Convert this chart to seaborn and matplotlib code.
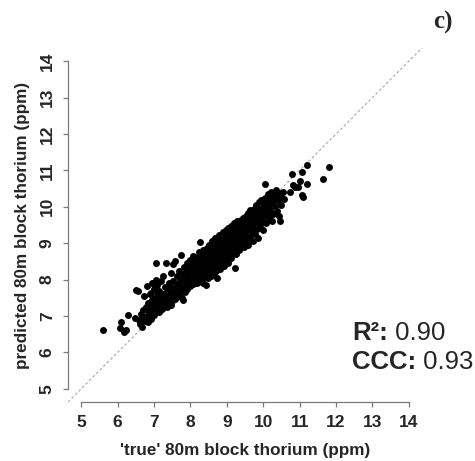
import numpy as np
import pandas as pd
import seaborn as sns
import matplotlib.pyplot as plt

# 'true' vs predicted 80m block thorium (ppm)
true_th = [
    5.61, 6.08, 6.10, 6.19, 6.22, 6.28, 6.47, 6.51, 6.55, 6.58,
    6.62, 6.65, 6.68, 6.70, 6.72, 6.74, 6.75, 6.78, 6.80, 6.82,
    6.83, 6.85, 6.86, 6.88, 6.90, 6.91, 6.93, 6.94, 6.95, 6.96,
    6.97, 6.98, 6.99, 7.00, 7.00,
    7.02, 7.04, 7.05, 7.06, 7.07, 7.08, 7.10, 7.11, 7.12, 7.14,
    7.15, 7.17, 7.18, 7.20, 7.20, 7.22, 7.24, 7.25, 7.27, 7.29,
    7.30, 7.31, 7.33, 7.34, 7.35, 7.37, 7.38, 7.40, 7.41, 7.43,
    7.44, 7.46, 7.47, 7.48, 7.49,
    7.51, 7.52, 7.53, 7.55, 7.57, 7.58, 7.60, 7.62, 7.63, 7.65,
    7.67, 7.68, 7.70, 7.72, 7.73, 7.75, 7.76, 7.78, 7.80, 7.80,
    7.82, 7.83, 7.85, 7.86, 7.88, 7.89, 7.90, 7.91, 7.92, 7.94,
    7.95, 7.96, 7.97, 7.98, 7.99,
    8.00, 8.01, 8.02, 8.03, 8.04, 8.05, 8.06, 8.07, 8.08, 8.09,
    8.10, 8.11, 8.12, 8.13, 8.14, 8.15, 8.16, 8.17, 8.18, 8.19,
    8.20, 8.21, 8.22, 8.23, 8.24, 8.25, 8.26, 8.27, 8.28, 8.29,
    8.30, 8.31, 8.32, 8.33, 8.34, 8.35, 8.35, 8.36, 8.37, 8.38,
    8.39, 8.40, 8.41, 8.42, 8.43, 8.44, 8.44, 8.45, 8.46, 8.47,
    8.48, 8.49, 8.50, 8.50,
    8.51, 8.52, 8.53, 8.54, 8.55, 8.56, 8.57, 8.58, 8.59, 8.60,
    8.61, 8.62, 8.63, 8.64, 8.65, 8.66, 8.67, 8.68, 8.69, 8.70,
    8.70, 8.71, 8.72, 8.73, 8.74, 8.75, 8.76, 8.77, 8.78, 8.79,
    8.80, 8.81, 8.82, 8.83, 8.84, 8.85, 8.86, 8.87, 8.88, 8.89,
    8.90, 8.91, 8.92, 8.93, 8.94, 8.95, 8.96, 8.97, 8.98, 8.99,
    9.00, 9.00,
    9.01, 9.02, 9.03, 9.04, 9.05, 9.06, 9.07, 9.08, 9.09, 9.10,
    9.11, 9.12, 9.13, 9.14, 9.15, 9.16, 9.17, 9.18, 9.19, 9.20,
    9.21, 9.22, 9.22, 9.23, 9.24, 9.25, 9.26, 9.27, 9.28, 9.29,
    9.30, 9.31, 9.32, 9.33, 9.34, 9.35, 9.36, 9.37, 9.38, 9.39,
    9.40, 9.41, 9.42, 9.43, 9.44, 9.45, 9.46, 9.47, 9.48, 9.49,
    9.50,
    9.51, 9.52, 9.53, 9.54, 9.55, 9.56, 9.58, 9.59, 9.60, 9.62,
    9.63, 9.64, 9.66, 9.67, 9.68, 9.70, 9.71, 9.72, 9.73, 9.75,
    9.76, 9.77, 9.79, 9.80, 9.81, 9.82, 9.84, 9.85, 9.86, 9.88,
    9.89, 9.90, 9.92, 9.93, 9.95, 9.96, 9.98, 9.99,
    10.01, 10.02, 10.04, 10.05, 10.06, 10.08, 10.10, 10.12, 10.14, 10.15,
    10.17, 10.18, 10.20, 10.22, 10.24, 10.26, 10.28, 10.30, 10.32, 10.35,
    10.37, 10.40, 10.42, 10.44, 10.46, 10.48, 10.50, 10.55, 10.58,
    10.73, 10.78, 10.82, 10.87, 10.95, 11.01, 11.06, 11.06, 11.10, 11.19,
    11.19, 11.63, 11.82,
    # extra points filling the dense core
    8.25, 8.40, 8.55, 8.65, 8.80, 8.95, 9.05, 9.15, 9.30, 9.45,
    9.55, 9.70, 8.45, 8.60, 8.75, 8.90, 9.10, 9.25, 9.40, 9.60,
]
pred_th = [
    6.63, 6.66, 6.85, 6.57, 6.62, 7.03, 6.94, 7.72, 7.68, 6.90,
    6.78, 7.05, 6.70, 7.17, 6.95, 7.54, 6.86, 7.25, 7.82, 7.00,
    6.84, 7.35, 7.12, 7.26, 7.60, 6.92, 7.63, 7.05, 7.91, 7.45,
    7.40, 7.18, 7.30, 7.75, 7.02,
    7.50, 7.22, 8.00, 8.46, 7.86, 7.35, 7.63, 7.26, 7.55, 7.12,
    7.70, 7.42, 7.30, 7.45, 7.95, 7.20, 7.60, 8.09, 7.35, 7.52,
    7.28, 7.80, 7.40, 8.46, 7.65, 7.25, 7.48, 7.90, 7.35, 7.82,
    7.58, 7.30, 7.70, 8.19, 7.42,
    7.55, 8.42, 7.95, 7.65, 8.51, 7.48, 7.80, 7.60, 8.10, 7.55,
    7.90, 7.70, 8.25, 7.62, 8.00, 8.69, 7.80, 7.50, 7.45, 8.15,
    7.72, 8.35, 7.95, 7.65, 8.20, 7.85, 8.05, 8.45, 7.75, 8.30,
    8.00, 7.90, 8.15, 8.55, 7.82,
    8.10, 8.35, 7.95, 8.22, 8.50, 8.05, 8.65, 8.30, 7.88, 8.15,
    8.42, 8.00, 8.25, 8.58, 7.95, 8.35, 8.12, 8.48, 8.20, 7.90,
    8.62, 8.30, 8.05, 8.40, 8.75, 8.18, 9.02, 8.50, 8.28, 7.98,
    8.38, 8.65, 8.12, 8.45, 8.22, 7.91, 8.55, 8.80, 8.32, 8.08,
    8.48, 8.70, 8.25, 8.60, 8.40, 7.86, 8.15, 8.88, 8.52, 8.30,
    8.72, 8.05, 8.45, 8.62,
    8.35, 8.95, 8.20, 8.55, 8.78, 8.42, 8.10, 8.65, 9.05, 8.30,
    8.50, 8.85, 8.38, 8.70, 8.15, 8.58, 9.15, 8.45, 8.92, 8.25,
    8.62, 8.80, 8.05, 8.50, 9.00, 8.70, 8.35, 8.88, 8.60, 9.22,
    8.48, 8.75, 8.28, 8.95, 8.65, 9.10, 8.42, 8.82, 8.55, 9.30,
    8.70, 8.38, 8.98, 8.62, 9.15, 8.80, 8.50, 9.05, 8.72, 9.35,
    8.90, 8.58,
    9.20, 8.45, 8.85, 9.42, 8.68, 9.05, 8.95, 9.30, 8.78, 9.12,
    8.60, 9.48, 8.90, 9.22, 9.00, 8.75, 9.35, 9.10, 8.85, 9.55,
    9.25, 8.32, 8.95, 9.15, 9.42, 8.70, 9.05, 9.30, 8.98, 9.60,
    9.20, 8.88, 9.40, 9.10, 8.80, 9.52, 9.28, 9.02, 9.65, 9.18,
    8.95, 9.45, 9.32, 9.08, 9.70, 9.22, 8.90, 9.55, 9.38, 9.12,
    9.62,
    9.30, 9.05, 9.75, 9.45, 9.20, 9.60, 8.95, 9.82, 9.38, 9.55,
    9.15, 9.90, 9.48, 9.70, 9.30, 9.85, 9.60, 9.05, 9.42, 9.95,
    9.72, 9.25, 9.58, 10.05, 9.80, 9.40, 9.65, 9.90, 9.15, 10.12,
    9.72, 9.50, 9.95, 9.82, 10.20, 9.62, 9.88, 9.35,
    10.05, 9.75, 10.25, 10.63, 9.90, 9.55, 10.15, 9.85, 10.35, 9.70,
    10.05, 10.22, 9.92, 10.40, 9.60, 10.15, 9.80, 10.30, 10.02, 10.45,
    9.88, 10.20, 10.38, 9.75, 9.62, 10.28, 10.05, 10.40, 10.22,
    10.40, 10.91, 10.60, 10.54, 10.55, 10.72, 10.96, 10.31, 10.28, 11.14,
    10.63, 10.77, 11.09,
    8.55, 8.60, 8.75, 8.45, 8.95, 8.60, 9.25, 8.85, 9.40, 9.15,
    9.70, 9.50, 8.20, 9.00, 8.55, 9.10, 8.70, 9.35, 9.00, 9.80,
]
tick_vals = [5, 6, 7, 8, 9, 10, 11, 12, 13, 14]
r2_text = "0.90"
ccc_text = "0.93"

df = pd.DataFrame({"true": true_th, "pred": pred_th})

sns.set_style("ticks")
plt.rcParams["font.family"] = ["Liberation Sans", "DejaVu Sans"]

fig = plt.figure(figsize=(4.75, 4.61), dpi=100)
ax = fig.add_axes([68 / 475, 1 - 402 / 461, 354 / 475, 354 / 461])

lims = (4.64, 14.36)
ax.plot(lims, lims, ls=(0, (2.5, 2)), color="#a8a8a8", lw=0.8, zorder=1)
sns.scatterplot(data=df, x="true", y="pred", ax=ax, color="black",
                s=25, linewidth=0, zorder=2)

ax.set_xlim(lims)
ax.set_ylim(lims)
ax.set_xticks(tick_vals)
ax.set_yticks(tick_vals)
ax.set_xticklabels([str(t) for t in tick_vals], fontweight="bold", fontsize=12.5)
ax.set_yticklabels([str(t) for t in tick_vals], fontweight="bold", fontsize=12.5,
                   rotation=90, va="center")

for side in ["top", "right"]:
    ax.spines[side].set_visible(False)
for side in ["left", "bottom"]:
    ax.spines[side].set_bounds(5, 14)
    ax.spines[side].set_color("#7a7a7a")
    ax.spines[side].set_linewidth(0.9)
ax.tick_params(length=3.5, width=0.9, color="#7a7a7a", pad=6)

ax.set_xlabel("'true' 80m block thorium (ppm)", fontweight="bold", fontsize=12.3,
              labelpad=9)
ax.set_ylabel("predicted 80m block thorium (ppm)", fontweight="bold", fontsize=12.3,
              labelpad=7)

fig.text(443 / 475, 1 - 22 / 461, "c)", family="Liberation Serif",
         fontweight="bold", fontsize=18, ha="center", va="center")

t1 = fig.text(352 / 475, 1 - 333 / 461, "R\u00b2:", fontweight="bold",
              fontsize=18.5, va="center")
ax.annotate(" " + r2_text, xy=(1, 0.5), xycoords=t1, va="center",
            fontsize=18.5)
t2 = fig.text(352 / 475, 1 - 362 / 461, "CCC:", fontweight="bold",
              fontsize=18.5, va="center")
ax.annotate(" " + ccc_text, xy=(1, 0.5), xycoords=t2, va="center",
            fontsize=18.5)

fig.savefig("out.png", dpi=100)
